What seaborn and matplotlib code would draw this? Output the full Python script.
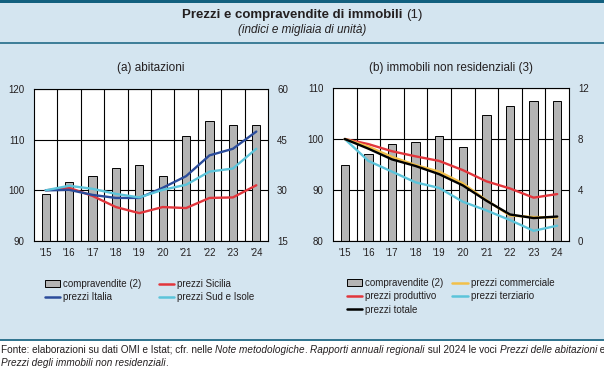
import numpy as np
import pandas as pd
import matplotlib
matplotlib.use("Agg")
import matplotlib.pyplot as plt
import seaborn as sns
from matplotlib.patches import Patch, Rectangle
from matplotlib.lines import Line2D

# dati
anni = [2015, 2016, 2017, 2018, 2019, 2020, 2021, 2022, 2023, 2024]
etichette = ["'15", "'16", "'17", "'18", "'19", "'20", "'21", "'22", "'23", "'24"]

# (a) abitazioni
compr_abit = [29.0, 32.6, 34.3, 36.7, 37.6, 34.3, 46.2, 50.5, 49.4, 49.4]
prezzi_italia = [100.0, 100.1, 99.1, 98.5, 98.5, 100.5, 102.8, 106.9, 108.2, 111.6]
prezzi_sicilia = [100.0, 100.5, 98.9, 96.7, 95.5, 96.7, 96.5, 98.5, 98.6, 101.0]
prezzi_sud = [100.0, 100.9, 100.3, 99.3, 98.6, 100.1, 101.1, 103.7, 104.3, 108.2]

# (b) immobili non residenziali
compr_nonres = [6.0, 6.8, 7.6, 7.8, 8.2, 7.4, 9.9, 10.6, 11.0, 11.0]
prezzi_produttivo = [100.0, 99.0, 97.6, 96.6, 95.7, 93.9, 91.7, 90.3, 88.5, 89.2]
prezzi_commerciale = [100.0, 98.5, 96.5, 94.9, 93.6, 91.3, 88.0, 85.0, 84.7, 84.6]
prezzi_totale = [100.0, 98.1, 96.0, 94.7, 93.1, 90.9, 87.9, 85.2, 84.5, 84.8]
prezzi_terziario = [100.0, 95.7, 93.6, 91.5, 90.4, 87.7, 86.0, 84.1, 82.0, 83.0]

BG = '#D4E5F0'
SCURO = '#12607F'
GRIGIO = '#B4B4B4'
BLU = '#2B4C9B'
ROSSO = '#E2363C'
CIANO = '#5CC4DA'
GIALLO = '#F2C04A'
TXT = '#231F20'

sns.set_theme(style="white")
plt.rcParams['font.family'] = ['Liberation Sans', 'DejaVu Sans']

fig = plt.figure(figsize=(6.04, 3.70), dpi=100, facecolor=BG)
W, H = 604, 370


def rect_px(x0, y0, x1, y1):
    return [x0 / W, 1 - y1 / H, (x1 - x0) / W, (y1 - y0) / H]


def pannello(rect, barre, lim_b, tick_b, serie, lim_l, tick_l, titolo):
    ax = fig.add_axes(rect)
    df = pd.DataFrame({'anno': anni, 'compr': barre})
    sns.barplot(data=df, x='anno', y='compr', native_scale=True, width=0.35,
                color=GRIGIO, saturation=1, edgecolor='black', linewidth=0.7,
                ax=ax, zorder=2)
    ax.set_facecolor('white')
    ax.set_xlim(anni[0] - 0.5, anni[-1] + 0.5)
    ax.set_ylim(*lim_b)
    ax.set_yticks(tick_b)
    ax.set_xticks(anni)
    ax.set_xticklabels(etichette)
    ax.set_xticks([a + 0.5 for a in anni[:-1]], minor=True)
    ax.set_axisbelow(True)
    ax.grid(which='minor', axis='x', color='black', lw=0.8)
    ax.grid(which='major', axis='y', color='black', lw=0.8)
    ax.grid(which='major', axis='x', visible=False)
    ax.set_xlabel('')
    ax.set_ylabel('')
    for s in ax.spines.values():
        s.set_color('black')
        s.set_linewidth(0.8)

    ax2 = ax.twinx()
    for vals, col in serie:
        sns.lineplot(x=anni, y=vals, color=col, lw=1.7, ax=ax2)
    ax2.set_ylim(*lim_l)
    ax2.set_yticks(tick_l)
    # scale invertite: prezzi a sinistra, compravendite a destra
    ax2.yaxis.tick_left()
    ax.yaxis.tick_right()
    for s in ax2.spines.values():
        s.set_visible(False)

    ax.tick_params(axis='both', which='both', length=0, labelsize=7, labelcolor=TXT)
    ax.tick_params(axis='y', pad=6.5)
    ax.tick_params(axis='x', pad=5)
    ax2.tick_params(axis='y', length=0, labelsize=7, labelcolor=TXT, pad=7)

    cx = rect[0] + rect[2] / 2
    fig.text(cx, 1 - 68 / H, titolo, ha='center', va='center', fontsize=8.5, color=TXT)
    return ax, ax2


pannello(rect_px(34, 89, 268, 241), compr_abit, (15, 60), [15, 30, 45, 60],
         [(prezzi_sicilia, ROSSO), (prezzi_italia, BLU), (prezzi_sud, CIANO)],
         (90, 120), [90, 100, 110, 120], '(a) abitazioni')

pannello(rect_px(333, 88, 569, 241), compr_nonres, (0, 12), [0, 4, 8, 12],
         [(prezzi_produttivo, ROSSO), (prezzi_terziario, CIANO),
          (prezzi_commerciale, GIALLO), (prezzi_totale, 'black')],
         (80, 110), [80, 90, 100, 110], '(b) immobili non residenziali (3)')

# legende
def barra():
    return Patch(facecolor=GRIGIO, edgecolor='black', linewidth=0.7)


def linea(c):
    return Line2D([], [], color=c, lw=1.8)


opz = dict(loc='upper left', frameon=False, ncol=2, fontsize=7, borderpad=0,
           borderaxespad=0, handlelength=1.55, handletextpad=0.35, labelspacing=0.35,
           labelcolor=TXT)
fig.legend([barra(), linea(BLU), linea(ROSSO), linea(CIANO)],
           ['compravendite (2)', 'prezzi Italia', 'prezzi Sicilia', 'prezzi Sud e Isole'],
           bbox_to_anchor=(45 / W, 1 - 279 / H), columnspacing=1.75, **opz)
fig.legend([barra(), linea(ROSSO), linea('black'), linea(GIALLO), linea(CIANO)],
           ['compravendite (2)', 'prezzi produttivo', 'prezzi totale',
            'prezzi commerciale', 'prezzi terziario'],
           bbox_to_anchor=(347 / W, 1 - 278 / H), columnspacing=0.9, **opz)

# cornice
fig.add_artist(Rectangle((0, 1 - 2.5 / H), 1, 2.5 / H, transform=fig.transFigure,
                         color=SCURO, lw=0))
fig.add_artist(Line2D([0, 1], [1 - 42.5 / H] * 2, transform=fig.transFigure,
                      color=SCURO, lw=1.1))
fig.add_artist(Line2D([0, 1], [1 - 340 / H] * 2, transform=fig.transFigure,
                      color=SCURO, lw=1.2))
fig.add_artist(Rectangle((0, 0), 1, 1 - 340.5 / H, transform=fig.transFigure,
                         color='white', lw=0, zorder=-1))

renderer = fig.canvas.get_renderer()


def larghezza(s, **kw):
    # avanzamento del testo: si misura con una 'x' in coda per contare gli spazi
    t1 = fig.text(0, 0, s + 'x', **kw)
    t2 = fig.text(0, 0, 'x', **kw)
    w = t1.get_window_extent(renderer).width - t2.get_window_extent(renderer).width
    t1.remove()
    t2.remove()
    return w


def testo_misto(pezzi, x, y, size, centra=False):
    stili = []
    for s, stile in pezzi:
        kw = dict(fontsize=size, color=TXT,
                  fontweight='bold' if stile == 'b' else 'normal',
                  fontstyle='italic' if stile == 'i' else 'normal')
        stili.append((s, kw, larghezza(s, **kw)))
    totale = sum(w for _, _, w in stili)
    cur = x - totale / 2 if centra else x
    for s, kw, w in stili:
        fig.text(cur / W, 1 - y / H, s, ha='left', va='center', **kw)
        cur += w


testo_misto([('Prezzi e compravendite di immobili ', 'b'), ('(1)', 'n')],
            302, 15, 9.5, centra=True)
fig.text(302 / W, 1 - 29.5 / H, '(indici e migliaia di unità)', ha='center', va='center',
         fontsize=8.5, fontstyle='italic', color=TXT)

testo_misto([('Fonte: elaborazioni su dati OMI e Istat; cfr. nelle ', 'n'),
             ('Note metodologiche', 'i'), ('. ', 'n'),
             ('Rapporti annuali regionali', 'i'), (' sul 2024 le voci ', 'n'),
             ('Prezzi delle abitazioni', 'i'), (' e', 'n')], 1, 350, 7.2)
testo_misto([('Prezzi degli immobili non residenziali', 'i'), ('.', 'n')], 1, 363, 7.2)

fig.savefig('out.png', dpi=100, facecolor=BG)
